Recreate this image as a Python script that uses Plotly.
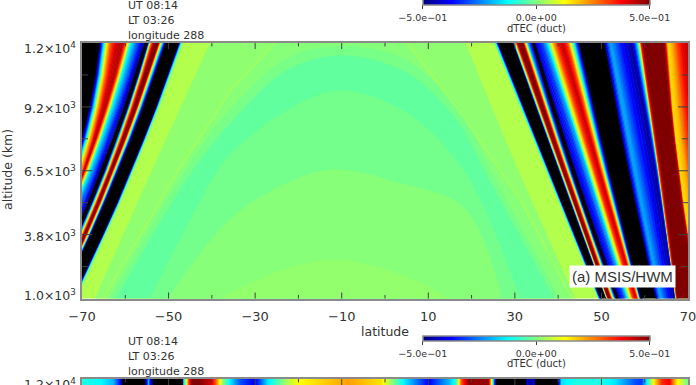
import plotly.graph_objects as go
from plotly.colors import sample_colorscale

W, H = 696, 385
INK = "#333333"
FRAME = "#8a8a8a"
TICK = "#404040"
SLICES = 4  # shading steps drawn between two band edges
BENDS = 8   # pieces of a band edge between top and bottom

JET = [[0, "#000080"], [0.125, "#0000ff"], [0.375, "#00ffff"], [0.5, "#80ff80"],
       [0.625, "#ffff00"], [0.875, "#ff0000"], [1, "#800000"]]
# same ramp on -0.6..0.5, anything under -0.5 is black
JET_UNDER = [[0, "#000000"], [0.0908, "#000000"], [0.0909, "#000080"], [0.2045, "#0000ff"],
             [0.4318, "#00ffff"], [0.5455, "#80ff80"], [0.6591, "#ffff00"], [0.8864, "#ff0000"],
             [1, "#800000"]]

LAT_TICKS = [-70, -50, -30, -10, 10, 30, 50, 70]
LAT_MINOR = [-60, -40, -20, 0, 20, 40, 60]
LAT_LABELS = ["−70", "−50", "−30", "−10", "10", "30", "50", "70"]
ALT_TICKS = [1000, 3750, 6500, 9250, 12000]
ALT_MINOR = [2375, 5125, 7875, 10625]
ALT_LABELS = ["1.0×10<sup>3</sup>", "3.8×10<sup>3</sup>", "6.5×10<sup>3</sup>",
              "9.2×10<sup>3</sup>", "1.2×10<sup>4</sup>"]
ALT_LABEL_SHIFT = [4, -1, 0, -1, -5]
ALT_TOP, ALT_BOTTOM = 12000, 1000

# left wing: dTEC at each band edge, edge latitude at 12000 / 6500 / 1000 km
LEFT_VAL = [-.6, -.6, -.5, -.35, -.15, 0, .15, .3, .42, .45, .3, .15, -.12, -.22, -.35, -.5, -.6,
            -.6, -.3, 0, .2, .4, .55, .55, .4, .15, -.15, -.4, -.6, -.6, -.45, -.15, 0, .05]
LEFT_TOP = [-75.1, -66.1, -65.8, -65.4, -64.9, -64.5, -64.1, -63.3, -62.1, -60.5, -59.8, -59.4,
            -58.7, -57.8, -56.6, -55.4, -55.1, -54.8, -54.5, -54.3, -54.1, -53.6, -52.9, -52.4,
            -52.1, -51.8, -51.3, -50.8, -50.4, -47.8, -47.4, -47.1, -46.8, -46.4]
LEFT_MID = [-79.7, -72.3, -72.1, -71.6, -71.2, -70.8, -70.5, -69.8, -69.5, -69.3, -69.1, -68.7,
            -68.2, -67.5, -66.5, -65.6, -65.1, -64.7, -64.5, -64.1, -63.9, -63.5, -63.2, -63.0,
            -62.7, -62.4, -62.0, -61.7, -61.3, -58.8, -58.6, -58.3, -58.1, -57.8]
LEFT_BOT = [-92.5, -85.1, -84.9, -84.4, -84.0, -83.6, -83.3, -82.6, -82.3, -82.1, -81.9, -81.5,
            -81.0, -80.3, -79.3, -78.4, -78.0, -77.6, -77.4, -77.0, -76.7, -76.4, -76.0, -75.8,
            -75.6, -75.3, -75.1, -74.9, -74.8, -72.3, -72.0, -71.6, -71.4, -71.0]

# right wing, same layout
RIGHT_VAL = [.05, 0, -.15, -.45, -.6, -.6, -.3, 0, .3, .55, .55, .35, .1, -.2, -.45, -.6, -.6, -.4,
             -.32, -.18, 0, .15, .3, .42, .42, .3, .12, -.15, -.4, -.6, -.6, -.4, -.2, -.35, -.48,
             -.2, .1, .35, .55, .55, .4, .15, .2, .3, .42, .42]
RIGHT_TOP = [25.2, 25.4, 25.8, 26.1, 26.6, 29.6, 29.8, 30.0, 30.4, 30.9, 31.9, 32.2, 32.6, 33.1,
             34.0, 34.3, 34.6, 34.9, 36.3, 37.4, 38.1, 38.6, 39.5, 40.6, 41.3, 42.3, 42.9, 43.8,
             44.6, 45.2, 50.6, 51.0, 52.1, 54.4, 57.1, 58.2, 58.9, 59.2, 59.8, 64.4, 64.9, 65.4,
             66.3, 67.4, 69.1, 72.8]
RIGHT_MID = [37.2, 37.4, 37.6, 37.9, 38.1, 40.2, 40.4, 40.6, 40.9, 41.2, 41.6, 42.0, 42.4, 42.7,
             43.1, 43.4, 43.7, 44.3, 45.7, 46.9, 47.3, 47.8, 48.3, 49.2, 49.7, 50.1, 50.6, 51.0,
             51.5, 52.0, 56.1, 56.6, 57.7, 60.1, 62.6, 63.1, 63.3, 63.5, 64.0, 67.4, 67.9, 68.1,
             69.3, 70.4, 71.8, 75.1]
RIGHT_BOT = [49.2, 49.4, 49.5, 49.8, 50.1, 51.0, 51.2, 51.3, 51.5, 51.7, 52.1, 52.4, 52.7, 53.1,
             53.4, 53.6, 53.9, 54.3, 55.2, 55.9, 56.4, 56.8, 57.3, 58.0, 58.2, 58.4, 58.7, 58.9,
             59.1, 59.4, 62.6, 62.8, 63.7, 65.4, 67.0, 67.2, 67.3, 67.4, 67.7, 71.8, 72.3, 72.8,
             73.5, 74.1, 75.1, 77.4]

# flat zones in the middle, painted outer to inner: (dTEC, lats, alts, curved edge)
ZONES = [
    (.05, [-90, 90, 90, -90], [1000, 1000, 12000, 12000], False),
    (.015, [-67, -53.6, -40.4, 18.5, 30.5, 43.9], [1000, 6600, 12000, 12000, 6600, 1000], False),
    (.008, [-65.1, -47.8, -35.4, -25.4, 5.1, 18.2, 31.4, 43.2],
     [1000, 6500, 10000, 12000, 12000, 8800, 5200, 1000], False),
    (-.008, [-63.5, -46.2, -35.4, -22, -10.9, 3.5, 16.9, 24.5, 40.4],
     [1000, 6500, 9200, 11400, 11850, 11400, 9200, 6500, 1000], True),
    (-.03, [-62.1, -44.4, -35.4, -23.1, -10.9, 4.6, 16.9, 22.9, 39],
     [1000, 6500, 8600, 10760, 11450, 10760, 8600, 6500, 1000], True),
    (-.012, [-54.3, -38.6, -35.4, -23.1, -10.4, 4.6, 18.2, 31.2],
     [1000, 6500, 7270, 9040, 9940, 9040, 6500, 1000], True),
    (.008, [-50.1, -35.4, -22, -11.6, 2.3, 18.2, 27],
     [1000, 4470, 6020, 6540, 6020, 4900, 1000], True),
    (.02, [-37.9, -31.7, -22, -11.6, -1.2, 9.2, 14.5],
     [1000, 1580, 2310, 2660, 2310, 1580, 1000], True),
]
STRIPE_LEFT_LAT = [-65.1, -47.8, -35.4, -25.4]
STRIPE_LEFT_ALT = [1000, 6500, 10000, 12000]
STRIPE_RIGHT_LAT = [5.1, 18.2, 31.4, 43.2]
STRIPE_RIGHT_ALT = [12000, 8800, 5200, 1000]
STRIPE_VAL = .035

# lower panel, only its top few pixels are on the page
LOWER_LAT = [-70, -65.8, -62.8, -61.2, -60.5, -55.9, -55.3, -54.8, -54.3, -53.4, -47, -46.6, -46,
             -45.5, -44.7, -40.4, -39.3, -38.1, -37.4, -35.8, -33.5, -30.5, -29.6, -27.3, -22.6,
             -20.3, -8.6, -0.9, 1.4, 4.6, 8.1, 9.9, 14.5, 16.2, 17.5, 19.2, 23.8, 24.5, 25.6,
             32.3, 32.8, 33.5, 34.2, 34.9, 39.5, 40.6, 43.9, 49.9, 53.1, 57.7, 59.1, 60.3, 61.9,
             63.7, 65.6, 67.2, 69.5, 70]
LOWER_VAL = [-.1, -.12, -.2, -.38, -.6, -.6, -.4, -.2, -.4, -.6, -.6, -.2, .1, .3, .55, .42, .3,
             .1, 0, -.15, -.3, -.38, -.35, -.15, .05, .12, .22, .15, .02, -.15, -.3, -.38, -.2,
             -.1, .3, .48, .48, .12, -.6, -.6, -.4, -.5, -.4, -.6, -.6, -.15, -.1, -.1, -.15, -.3,
             -.32, -.15, .12, .33, .38, .15, 0, -.02]
LOWER_ALTS = [11700, 12000]

INFO_LINES = ["UT 08:14", "LT 03:26", "longitude 288"]


def colour(val):
    if val < -0.5:
        return "#000000"
    return sample_colorscale(JET, min(val, 0.5) + 0.5)[0]


def poly(lats, alts, val, curved=False):
    c = colour(val)
    shape = "spline" if curved else "linear"
    return go.Scatter(x=lats, y=alts, mode="lines", fill="toself", fillcolor=c,
                      line=dict(color=c, width=0.6, shape=shape), hoverinfo="skip",
                      showlegend=False, xaxis="x", yaxis="y")


def bend(top, mid, bot):
    # smooth edge through the three read rows
    out = []
    for n in range(BENDS + 1):
        t = n / BENDS
        out.append(top * (1 - t) * (1 - 2 * t) + mid * 4 * t * (1 - t) + bot * t * (2 * t - 1))
    return out


def wing(vals, top, mid, bot):
    # edges stay as read; each band is shaded in a few slices so it blends like the original
    alts = [ALT_TOP + (ALT_BOTTOM - ALT_TOP) * n / BENDS for n in range(BENDS + 1)]
    out = []
    for i in range(len(vals) - 1):
        steps = 1 if vals[i] == vals[i + 1] else SLICES
        first = bend(top[i], mid[i], bot[i])
        second = bend(top[i + 1], mid[i + 1], bot[i + 1])
        for k in range(steps):
            a, b = k / steps, (k + 1) / steps
            left = [p + (q - p) * a for p, q in zip(first, second)]
            right = [p + (q - p) * b for p, q in zip(first, second)]
            val = vals[i] + (vals[i + 1] - vals[i]) * (a + b) / 2
            out.append(poly(left + right[::-1], alts + alts[::-1], val))
    return out


def scale_holder(top_px, thick):
    # unseen trace, it only carries a colorbar
    return go.Scatter(
        x=[-100, -100], y=[5000, 5000], mode="markers", hoverinfo="skip", showlegend=False,
        xaxis="x", yaxis="y",
        marker=dict(
            color=[-0.5, 0.5], cmin=-0.5, cmax=0.5, colorscale=JET, showscale=True,
            colorbar=dict(
                orientation="h", x=536.2 / W, xanchor="center", y=1 - top_px / H, yanchor="top",
                len=227, lenmode="pixels", thickness=thick, xpad=0, ypad=0,
                outlinecolor=FRAME, outlinewidth=1.5,
                tickmode="array", tickvals=[-0.5, 0, 0.5],
                ticktext=["−5.0e−01", "0.0e+00", "5.0e−01"],
                ticks="outside", ticklen=4, tickcolor=TICK, tickfont=dict(size=9.5, color=INK),
            ),
        ),
    )


def lat_tick(lat, axis, y0, y1):
    return dict(type="line", xref=axis, yref="paper", x0=lat, x1=lat, y0=1 - y0 / H, y1=1 - y1 / H,
                line=dict(color=TICK, width=1))


def alt_tick(alt, x0, x1):
    return dict(type="line", xref="paper", yref="y", x0=x0 / W, x1=x1 / W, y0=alt, y1=alt,
                line=dict(color=TICK, width=1))


fig = go.Figure()
for val, lats, alts, curved in ZONES:
    fig.add_trace(poly(lats, alts, val, curved))
for s_lat, s_alt in [(STRIPE_LEFT_LAT, STRIPE_LEFT_ALT), (STRIPE_RIGHT_LAT, STRIPE_RIGHT_ALT)]:
    fig.add_trace(go.Scatter(x=s_lat, y=s_alt, mode="lines", hoverinfo="skip", showlegend=False,
                             line=dict(color=colour(STRIPE_VAL), width=1.5)))
for tr in wing(LEFT_VAL, LEFT_TOP, LEFT_MID, LEFT_BOT):
    fig.add_trace(tr)
for tr in wing(RIGHT_VAL, RIGHT_TOP, RIGHT_MID, RIGHT_BOT):
    fig.add_trace(tr)

fig.add_trace(go.Heatmap(x=LOWER_LAT, y=LOWER_ALTS, z=[LOWER_VAL, LOWER_VAL], zmin=-0.6, zmax=0.5,
                         colorscale=JET_UNDER, zsmooth="best", showscale=False, hoverinfo="skip",
                         xaxis="x2", yaxis="y2"))
fig.add_trace(scale_holder(-1, 6))
fig.add_trace(scale_holder(336, 5))

# axis ticks, both panels
tick_marks = []
for lat in LAT_TICKS[1:-1]:
    tick_marks += [lat_tick(lat, "x", 43, 49), lat_tick(lat, "x", 298.5, 292.5),
                   lat_tick(lat, "x2", 379, 385)]
for lat in LAT_MINOR:
    tick_marks += [lat_tick(lat, "x", 43, 46.5), lat_tick(lat, "x", 298.5, 295),
                   lat_tick(lat, "x2", 379, 382.5)]
for alt in ALT_TICKS[1:-1]:
    tick_marks += [alt_tick(alt, 82, 92), alt_tick(alt, 688, 678)]
for alt in ALT_MINOR:
    tick_marks += [alt_tick(alt, 82, 88), alt_tick(alt, 688, 682)]

notes = []
for line, y0, y1 in zip(INFO_LINES, [5.7, 20.7, 35.7], [341, 356.7, 371.7]):
    for y in (y0, y1):
        notes.append(dict(text=line, xref="paper", yref="paper", x=125.5 / W, y=1 - y / H,
                          xanchor="left", yanchor="middle", showarrow=False,
                          font=dict(size=11, color=INK)))
for val, label, shift in zip(ALT_TICKS, ALT_LABELS, ALT_LABEL_SHIFT):
    notes.append(dict(text=label, xref="paper", yref="y", x=78 / W, y=val, yshift=shift,
                      xanchor="right", yanchor="middle", showarrow=False,
                      font=dict(size=12.5, color=INK)))
notes.append(dict(text=ALT_LABELS[-1], xref="paper", yref="y2", x=78 / W, y=12000, yshift=-5,
                  xanchor="right", yanchor="middle", showarrow=False,
                  font=dict(size=12.5, color=INK)))
notes.append(dict(text="latitude", xref="paper", yref="paper", x=385 / W, y=1 - 331.5 / H,
                  xanchor="center", yanchor="middle", showarrow=False,
                  font=dict(size=12.5, color=INK)))
notes.append(dict(text="altitude (km)", xref="paper", yref="paper", x=8 / W, y=1 - 170 / H,
                  textangle=-90, xanchor="center", yanchor="middle", showarrow=False,
                  font=dict(size=12.5, color=INK)))
for y in (28, 363):
    notes.append(dict(text="dTEC (duct)", xref="paper", yref="paper", x=536.2 / W, y=1 - y / H,
                      xanchor="center", yanchor="middle", showarrow=False,
                      font=dict(size=10, color=INK)))
notes.append(dict(text="(a) MSIS/HWM", xref="paper", yref="paper", x=622.5 / W, y=1 - 276 / H,
                  xanchor="center", yanchor="middle", showarrow=False, bgcolor="white",
                  borderpad=2, font=dict(family="Liberation Sans", size=15, color=INK)))

x_axis = dict(range=[-70, 70], tickmode="array", tickvals=LAT_TICKS, ticktext=LAT_LABELS,
              ticks="", showgrid=False, zeroline=False, showline=True, linecolor=FRAME,
              linewidth=1.5, domain=[82 / W, 688 / W], tickfont=dict(size=13, color=INK),
              ticklabeloverflow="allow")

fig.update_layout(
    width=W, height=H,
    margin=dict(l=0, r=0, t=0, b=0, autoexpand=False),
    paper_bgcolor="white", plot_bgcolor="white",
    font=dict(family="DejaVu Sans", color=INK),
    showlegend=False,
    annotations=notes,
    shapes=tick_marks,
    xaxis=dict(**x_axis, anchor="y", mirror=True, ticklabelstandoff=5),
    yaxis=dict(range=[1000, 12000], domain=[1 - 298.5 / H, 1 - 43 / H], anchor="x",
               showticklabels=False, ticks="", showgrid=False, zeroline=False,
               showline=True, linecolor=FRAME, linewidth=1.5, mirror=True),
    xaxis2=dict(**x_axis, anchor="y2", side="top", showticklabels=False),
    yaxis2=dict(range=[11740, 12000], domain=[0, 6 / H], anchor="x2", tickvals=[],
                showticklabels=False, showgrid=False, zeroline=False, showline=True,
                linecolor=FRAME, linewidth=1.5, mirror=True),
)

fig.write_html("out.html", config=dict(displayModeBar=False),
               post_script="document.body.style.margin='0';")
